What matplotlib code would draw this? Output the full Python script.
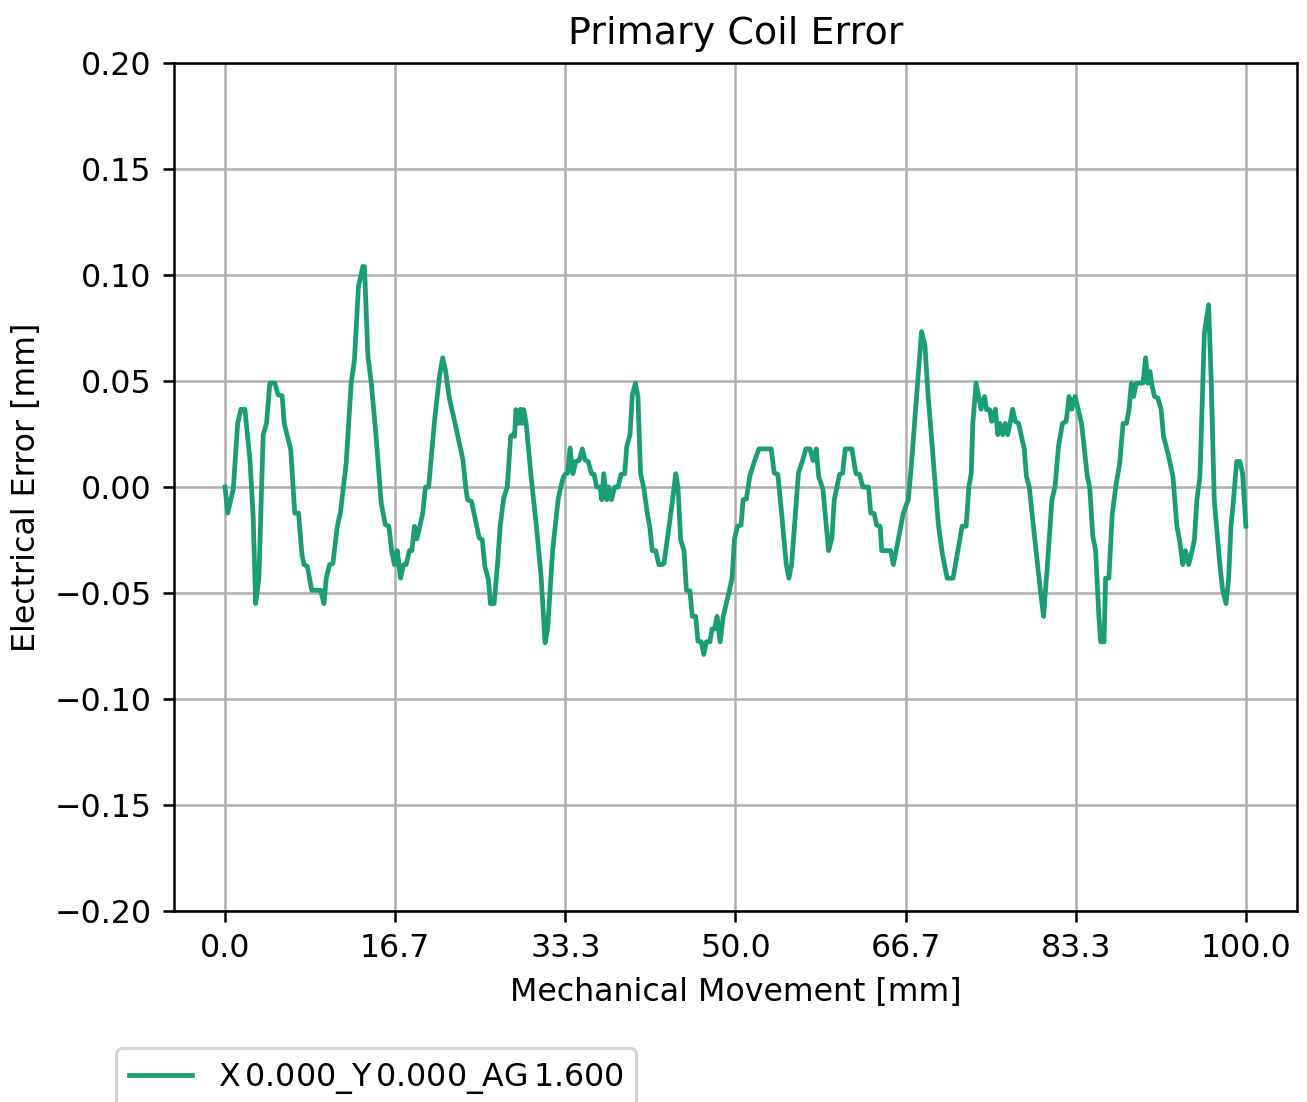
import matplotlib
matplotlib.use('Agg')
import matplotlib.pyplot as plt
import numpy as np

# Mechanical movement [mm] and electrical error [mm]
movement = [
    0.0, 0.26, 0.81, 1.24, 1.56, 1.95, 2.44, 2.76, 3.0, 3.32, 3.74, 4.07, 4.39, 4.88,
    5.2, 5.6, 5.8, 6.44, 6.83, 7.2, 7.54, 7.74, 8.06, 8.5, 9.37, 9.69, 9.92, 10.24,
    10.57, 11.0, 11.3, 11.87, 12.36, 12.68, 13.07, 13.5, 13.66, 14.0, 14.33, 14.8,
    15.3, 15.7, 16.05, 16.35, 16.6, 16.87, 17.19, 17.5, 17.74, 18.07, 18.3, 18.56,
    18.8, 19.37, 19.63, 19.95, 20.5, 21.0, 21.32, 21.6, 21.97, 22.6, 23.3, 23.6,
    23.76, 24.15, 24.9, 25.2, 25.45, 25.8, 26.0, 26.36, 26.7, 26.95, 27.3, 27.65,
    27.98, 28.2, 28.36, 28.5, 28.75, 28.94, 29.1, 29.26, 29.5, 29.98, 30.47, 30.96,
    31.35, 31.6, 32.1, 32.65, 33.07, 33.3, 33.56, 33.8, 34.08, 34.37, 34.7, 35.0,
    35.25, 35.57, 35.9, 36.16, 36.4, 36.75, 36.9, 37.1, 37.4, 37.6, 37.85, 38.18,
    38.5, 38.8, 39.15, 39.35, 39.67, 39.9, 40.2, 40.45, 40.7, 41.04, 41.36, 41.6,
    41.85, 42.18, 42.5, 42.8, 43.0, 43.5, 43.8, 44.15, 44.37, 44.63, 44.96, 45.2,
    45.54, 45.77, 46.1, 46.33, 46.65, 46.9, 47.16, 47.5, 47.7, 47.95, 48.2, 48.5,
    48.8, 49.35, 49.67, 49.9, 50.2, 50.55, 50.75, 51.07, 51.4, 51.8, 52.3, 53.5,
    53.8, 54.15, 54.55, 54.98, 55.24, 55.5, 55.85, 56.17, 56.6, 56.9, 57.3, 57.6,
    57.92, 58.15, 58.57, 58.9, 59.13, 59.45, 59.68, 60.2, 60.5, 60.75, 61.4, 61.8,
    62.15, 62.47, 63.03, 63.25, 63.58, 63.84, 64.17, 64.33, 65.2, 65.47, 65.95,
    66.44, 66.93, 67.25, 67.74, 68.23, 68.56, 68.88, 69.3, 69.86, 70.28, 70.74,
    71.32, 71.97, 72.2, 72.6, 72.86, 73.1, 73.25, 73.57, 74.06, 74.4, 74.6, 74.9,
    75.1, 75.46, 75.7, 75.9, 76.17, 76.43, 76.66, 76.9, 77.15, 77.4, 77.74, 78.3,
    78.5, 78.78, 79.43, 79.9, 80.18, 80.57, 81.0, 81.3, 81.64, 82.03, 82.4, 82.68,
    82.94, 83.27, 83.5, 83.9, 84.47, 84.7, 85.0, 85.28, 85.6, 85.77, 86.1, 86.26,
    86.58, 86.9, 87.25, 87.64, 87.97, 88.3, 88.55, 88.78, 89.0, 89.27, 89.92, 90.18,
    90.4, 90.6, 90.8, 91.05, 91.38, 91.7, 91.93, 92.36, 92.85, 93.24, 93.5, 93.82,
    94.08, 94.4, 94.73, 94.96, 95.2, 95.5, 95.93, 96.16, 96.35, 96.6, 96.9, 97.4,
    97.7, 98.05, 98.3, 98.54, 98.76, 99.1, 99.4, 99.67, 100.0,
]
error = [
    0.0, -0.0123, -0.001, 0.030, 0.0367, 0.0367, 0.013, -0.014, -0.055, -0.043, 0.0247,
    0.030, 0.049, 0.049, 0.0435, 0.043, 0.030, 0.0176, -0.0123, -0.0123, -0.032,
    -0.0366, -0.0374, -0.0487, -0.0487, -0.055, -0.043, -0.0366, -0.036, -0.0185,
    -0.0123, 0.0113, 0.049, 0.060, 0.0945, 0.104, 0.104, 0.0615, 0.049, 0.0239,
    -0.0075, -0.0177, -0.0185, -0.031, -0.0366, -0.030, -0.043, -0.0366, -0.0366,
    -0.030, -0.030, -0.0185, -0.0245, -0.0123, 0.0, 0.0, 0.030, 0.052, 0.061, 0.055,
    0.042, 0.0286, 0.0129, -0.001, -0.006, -0.0068, -0.024, -0.0248, -0.0374,
    -0.0437, -0.055, -0.055, -0.036, -0.0185, -0.0052, 0.0, 0.0239, 0.0247, 0.0239,
    0.0365, 0.030, 0.0367, 0.030, 0.0365, 0.030, 0.005, -0.017, -0.042, -0.0735,
    -0.067, -0.0295, -0.0052, 0.0035, 0.006, 0.0066, 0.0184, 0.0063, 0.0121, 0.0126,
    0.018, 0.0129, 0.0121, 0.0063, 0.006, 0.0, 0.0, -0.006, 0.0063, -0.006, 0.0,
    -0.006, 0.0, 0.0, 0.006, 0.0063, 0.019, 0.0247, 0.0435, 0.049, 0.0427, 0.0066,
    -0.001, -0.0123, -0.0185, -0.030, -0.030, -0.0366, -0.0366, -0.036, -0.0185,
    -0.0075, 0.0063, 0.0, -0.0248, -0.030, -0.0487, -0.049, -0.061, -0.061, -0.0727,
    -0.073, -0.079, -0.073, -0.073, -0.067, -0.067, -0.061, -0.073, -0.061, -0.050,
    -0.043, -0.0248, -0.0185, -0.018, -0.006, -0.0057, 0.005, 0.0113, 0.018, 0.018,
    0.0066, 0.006, -0.0138, -0.0366, -0.043, -0.0366, -0.0138, 0.0066, 0.0129, 0.018,
    0.018, 0.0125, 0.018, 0.005, -0.001, -0.0185, -0.030, -0.024, -0.006, 0.006,
    0.0066, 0.018, 0.018, 0.0063, 0.006, 0.0, 0.0, -0.0123, -0.0125, -0.018, -0.0185,
    -0.030, -0.030, -0.0366, -0.0248, -0.0123, -0.006, 0.0113, 0.0427, 0.0733, 0.067,
    0.0427, 0.0176, -0.017, -0.032, -0.043, -0.043, -0.0248, -0.0185, -0.0185, 0.0,
    0.0066, 0.030, 0.049, 0.0367, 0.0427, 0.0365, 0.0365, 0.031, 0.0367, 0.0247,
    0.030, 0.0247, 0.030, 0.0247, 0.030, 0.0367, 0.031, 0.030, 0.0176, 0.005, 0.0,
    -0.0295, -0.050, -0.061, -0.036, -0.006, 0.0, 0.019, 0.030, 0.031, 0.0427,
    0.0367, 0.0427, 0.038, 0.030, 0.005, 0.0, -0.023, -0.030, -0.061, -0.073, -0.073,
    -0.043, -0.043, -0.013, 0.0, 0.0113, 0.030, 0.030, 0.0365, 0.049, 0.0427, 0.049,
    0.049, 0.061, 0.049, 0.0545, 0.048, 0.0427, 0.042, 0.0365, 0.0239, 0.016, 0.005,
    -0.0185, -0.0248, -0.0366, -0.030, -0.0366, -0.030, -0.0248, -0.006, 0.005,
    0.0725, 0.080, 0.086, 0.0505, -0.006, -0.034, -0.048, -0.055, -0.0437, -0.0185,
    -0.0075, 0.0121, 0.0121, 0.0066, -0.0185,
]
series_label = r'X$\,$0.000_Y$\,$0.000_AG$\,$1.600'
xtick_values = np.linspace(0, 100, 7)
ytick_values = np.arange(-0.20, 0.2001, 0.05)

DPI = 228
fig = plt.figure(figsize=(1307 / DPI, 1102 / DPI), dpi=DPI)
ax = fig.add_axes([0.1331, 0.1733, 0.8592, 0.7695])

ax.plot(movement, error, color='#1b9e77', linewidth=1.5, label=series_label)

ax.set_ylim(-0.2, 0.2)
ax.set_xticks(xtick_values)
ax.set_xticklabels([f'{v:.1f}' for v in xtick_values])
ax.set_yticks(ytick_values)
ax.grid(True)
ax.set_axisbelow(True)

ax.set_title('Primary Coil Error', fontsize=12)
ax.set_xlabel('Mechanical Movement [mm]')
ax.set_ylabel('Electrical Error [mm]')

fig.legend(loc='upper left', bbox_to_anchor=(0.077, 0.063), fontsize=10)

fig.savefig('out.png', dpi=DPI)
